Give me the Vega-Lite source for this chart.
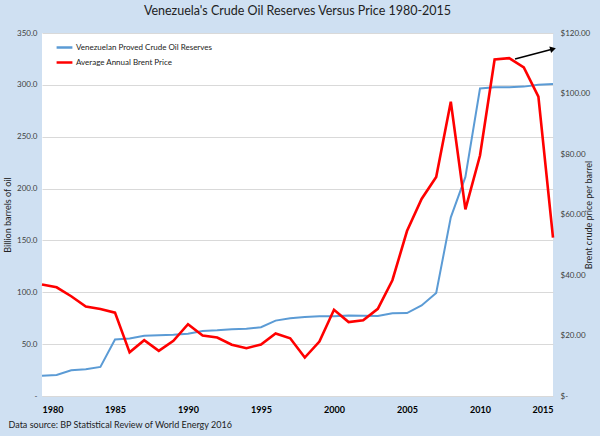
{
  "$schema": "https://vega.github.io/schema/vega-lite/v6.json",
  "width": 511,
  "height": 363,
  "autosize": {"type": "none"},
  "padding": {"left": 42, "top": 33, "right": 47, "bottom": 40},
  "background": "#cfe0f2",
  "config": {
    "view": {"fill": "white", "stroke": null},
    "font": "Lato"
  },
  "title": {
    "text": "Venezuela's Crude Oil Reserves Versus Price 1980-2015",
    "fontSize": 12.5,
    "fontWeight": "normal",
    "color": "#222222",
    "offset": 12,
    "anchor": "middle"
  },
  "datasets": {
    "series": [
      {"year": 1980, "reserves": 19.5, "price": 36.83},
      {"year": 1981, "reserves": 20.3, "price": 35.93},
      {"year": 1982, "reserves": 24.9, "price": 32.97},
      {"year": 1983, "reserves": 25.9, "price": 29.55},
      {"year": 1984, "reserves": 28.0, "price": 28.78},
      {"year": 1985, "reserves": 54.5, "price": 27.56},
      {"year": 1986, "reserves": 55.5, "price": 14.43},
      {"year": 1987, "reserves": 58.1, "price": 18.44},
      {"year": 1988, "reserves": 58.5, "price": 14.92},
      {"year": 1989, "reserves": 59.0, "price": 18.23},
      {"year": 1990, "reserves": 60.1, "price": 23.73},
      {"year": 1991, "reserves": 62.6, "price": 20.0},
      {"year": 1992, "reserves": 63.3, "price": 19.32},
      {"year": 1993, "reserves": 64.4, "price": 16.97},
      {"year": 1994, "reserves": 64.9, "price": 15.82},
      {"year": 1995, "reserves": 66.3, "price": 17.02},
      {"year": 1996, "reserves": 72.7, "price": 20.67},
      {"year": 1997, "reserves": 74.9, "price": 19.09},
      {"year": 1998, "reserves": 76.1, "price": 12.72},
      {"year": 1999, "reserves": 76.8, "price": 17.97},
      {"year": 2000, "reserves": 76.8, "price": 28.5},
      {"year": 2001, "reserves": 77.7, "price": 24.44},
      {"year": 2002, "reserves": 77.3, "price": 25.02},
      {"year": 2003, "reserves": 77.2, "price": 28.83},
      {"year": 2004, "reserves": 79.7, "price": 38.27},
      {"year": 2005, "reserves": 80.0, "price": 54.52},
      {"year": 2006, "reserves": 87.3, "price": 65.14},
      {"year": 2007, "reserves": 99.4, "price": 72.39},
      {"year": 2008, "reserves": 172.3, "price": 97.26},
      {"year": 2009, "reserves": 211.2, "price": 61.67},
      {"year": 2010, "reserves": 296.5, "price": 79.5},
      {"year": 2011, "reserves": 297.6, "price": 111.26},
      {"year": 2012, "reserves": 297.7, "price": 111.67},
      {"year": 2013, "reserves": 298.3, "price": 108.66},
      {"year": 2014, "reserves": 300.0, "price": 98.95},
      {"year": 2015, "reserves": 300.9, "price": 52.39}
    ],
    "arrow": [
      {"year": 2012.4, "year_end": 2015.0, "price": 111.4, "price_end": 114.7}
    ]
  },
  "data": {"name": "series"},
  "layer": [
    {
      "mark": {"type": "line", "strokeWidth": 2},
      "encoding": {
        "x": {
          "field": "year",
          "type": "quantitative",
          "scale": {"domain": [1980, 2015], "nice": false, "zero": false},
          "axis": {
            "values": [1980, 1985, 1990, 1995, 2000, 2005, 2010, 2015],
            "format": "d",
            "grid": false,
            "domain": false,
            "ticks": false,
            "labelFontSize": 9,
            "labelFontWeight": "bold",
            "labelColor": "#000000",
            "labelPadding": 9,
            "title": "Data source: BP Statistical Review of World Energy 2016",
            "titleFontSize": 9,
            "titleFontWeight": "normal",
            "titleColor": "#222222",
            "titleAnchor": "start",
            "titleAlign": "left",
            "titleX": -34,
            "titleY": 28,
            "titleBaseline": "middle"
          }
        },
        "y": {
          "field": "reserves",
          "type": "quantitative",
          "scale": {"domain": [0, 350], "nice": false},
          "axis": {
            "orient": "left",
            "values": [0, 50, 100, 150, 200, 250, 300, 350],
            "labelExpr": "datum.value == 0 ? '-' : format(datum.value, '.1f')",
            "grid": true,
            "gridColor": "#d9d9d9",
            "domain": false,
            "ticks": false,
            "labelFontSize": 8,
            "labelColor": "#404040",
            "labelPadding": 5,
            "title": "Billion barrels of oil",
            "titleFontSize": 9,
            "titleFontWeight": "normal",
            "titleColor": "#222222",
            "titlePadding": 4
          }
        },
        "color": {
          "datum": "Venezuelan Proved Crude Oil Reserves",
          "scale": {
            "domain": ["Venezuelan Proved Crude Oil Reserves", "Average Annual Brent Price"],
            "range": ["#5b9bd5", "#ff0000"]
          },
          "legend": {
            "title": null,
            "orient": "none",
            "legendX": 13,
            "legendY": 7,
            "symbolType": "stroke",
            "symbolSize": 250,
            "symbolStrokeWidth": 2.5,
            "labelFontSize": 8,
            "labelColor": "#222222",
            "labelOffset": 2,
            "rowPadding": 0,
            "clipHeight": 15
          }
        }
      }
    },
    {
      "layer": [
        {
          "mark": {"type": "line", "strokeWidth": 2.6},
          "encoding": {
            "x": {"field": "year", "type": "quantitative"},
            "y": {
              "field": "price",
              "type": "quantitative",
              "scale": {"domain": [0, 120], "nice": false},
              "axis": {
                "orient": "right",
                "values": [0, 20, 40, 60, 80, 100, 120],
                "labelExpr": "datum.value == 0 ? '$-' : '$' + format(datum.value, '.2f')",
                "grid": false,
                "domain": false,
                "ticks": false,
                "labelFontSize": 8,
                "labelColor": "#404040",
                "labelPadding": 7,
                "title": "Brent crude price per barrel",
                "titleFontSize": 9,
                "titleFontWeight": "normal",
                "titleColor": "#222222",
                "titleAngle": 270,
                "titlePadding": 4
              }
            },
            "color": {"datum": "Average Annual Brent Price"}
          }
        },
        {
          "data": {"name": "arrow"},
          "mark": {"type": "rule", "color": "#000000", "strokeWidth": 1.6},
          "encoding": {
            "x": {"field": "year", "type": "quantitative"},
            "x2": {"field": "year_end"},
            "y": {"field": "price", "type": "quantitative"},
            "y2": {"field": "price_end"}
          }
        },
        {
          "data": {"name": "arrow"},
          "mark": {"type": "point", "shape": "triangle-right", "filled": true, "color": "#000000", "opacity": 1, "size": 45, "angle": 345},
          "encoding": {
            "x": {"field": "year_end", "type": "quantitative"},
            "y": {"field": "price_end", "type": "quantitative"}
          }
        }
      ]
    }
  ],
  "resolve": {"scale": {"y": "independent"}}
}
